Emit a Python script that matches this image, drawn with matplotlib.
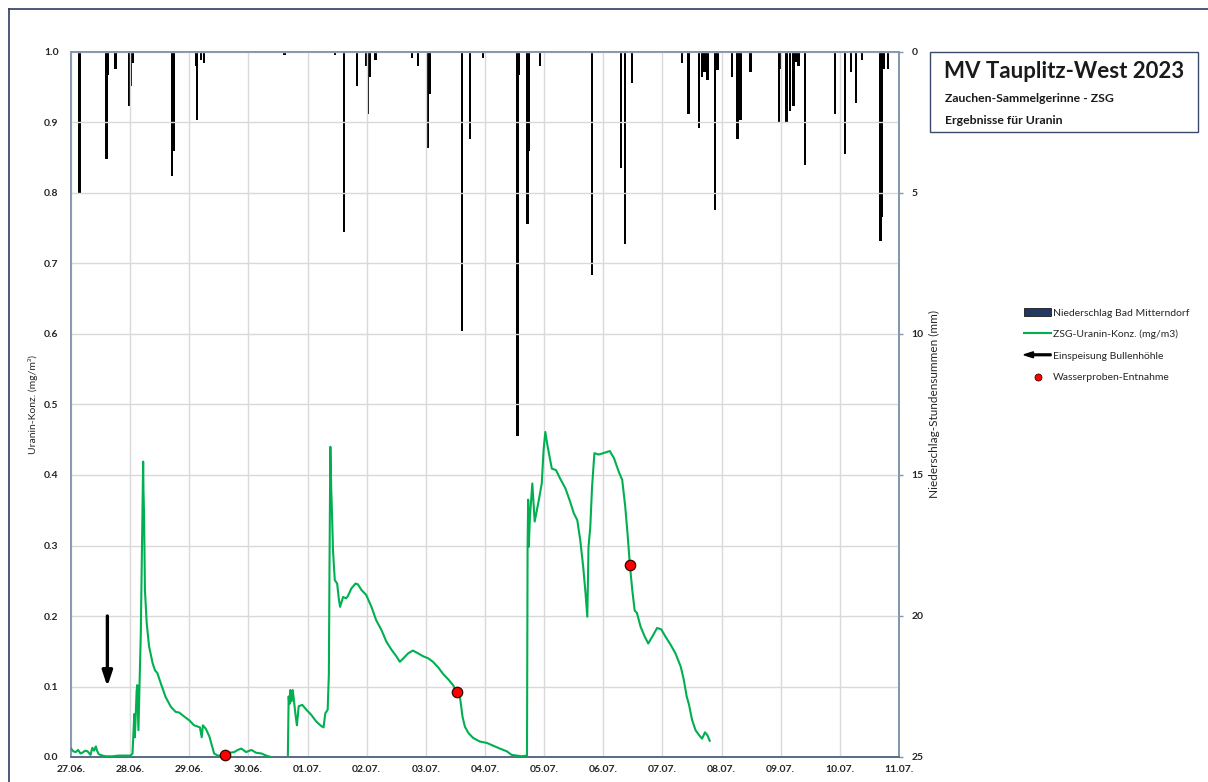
import matplotlib
matplotlib.use("Agg")
import matplotlib.pyplot as plt
import matplotlib.patches as mpatches
from matplotlib.lines import Line2D
from matplotlib.legend_handler import HandlerBase
import numpy as np

plt.rcParams['font.family'] = ['Lato', 'DejaVu Sans']

# ---------------- data ----------------
date_labels = ["27.06.", "28.06.", "29.06.", "30.06.", "01.07.", "02.07.", "03.07.",
               "04.07.", "05.07.", "06.07.", "07.07.", "08.07.", "09.07.", "10.07.", "11.07."]

# time in days since 27.06. 00:00
uranin_t = [0.00, 0.04, 0.08, 0.12, 0.16, 0.19, 0.24, 0.28, 0.31, 0.33, 0.35, 0.36, 0.39, 0.42,
            0.44, 0.47, 0.53, 0.59, 0.70, 0.81, 0.93, 1.01, 1.04, 1.05, 1.07, 1.08, 1.10, 1.11,
            1.12, 1.14, 1.16, 1.18, 1.20, 1.22, 1.225, 1.235, 1.25, 1.28, 1.32, 1.38, 1.42, 1.46,
            1.52, 1.60, 1.69, 1.77, 1.83, 1.89, 2.00, 2.08, 2.18, 2.21, 2.23, 2.28, 2.34, 2.38,
            2.42, 2.48, 2.60, 2.68, 2.76, 2.82, 2.88, 2.96, 3.05, 3.13, 3.22, 3.30, 3.38, 3.50,
            3.667, 3.68, 3.69, 3.70, 3.71, 3.73, 3.75, 3.80, 3.82, 3.85, 3.91, 3.98, 4.06, 4.15,
            4.23, 4.27, 4.30, 4.34, 4.36, 4.37, 4.385, 4.40, 4.41, 4.43, 4.46, 4.50, 4.53, 4.55,
            4.60, 4.65, 4.68, 4.74, 4.81, 4.85, 4.91, 4.99, 5.08, 5.16, 5.25, 5.33, 5.42, 5.50,
            5.56, 5.62, 5.70, 5.78, 5.87, 5.95, 6.04, 6.12, 6.21, 6.29, 6.38, 6.46, 6.52, 6.58,
            6.62, 6.66, 6.72, 6.80, 6.91, 7.03, 7.14, 7.25, 7.37, 7.45, 7.54, 7.62, 7.71, 7.72,
            7.73, 7.74, 7.76, 7.80, 7.84, 7.90, 7.96, 7.99, 8.02, 8.06, 8.13, 8.20, 8.27, 8.36,
            8.44, 8.50, 8.56, 8.61, 8.66, 8.70, 8.73, 8.75, 8.78, 8.81, 8.85, 8.92, 9.00, 9.11,
            9.18, 9.26, 9.32, 9.37, 9.41, 9.45, 9.49, 9.53, 9.57, 9.63, 9.70, 9.76, 9.83, 9.91,
            9.98, 10.05, 10.14, 10.22, 10.31, 10.36, 10.41, 10.45, 10.50, 10.56, 10.62, 10.67,
            10.72, 10.76, 10.80]
uranin_c = [0.012, 0.008, 0.007, 0.010, 0.005, 0.006, 0.009, 0.008, 0.005, 0.003, 0.010, 0.013,
            0.009, 0.015, 0.009, 0.004, 0.002, 0.001, 0.001, 0.002, 0.002, 0.002, 0.005, 0.023,
            0.061, 0.028, 0.070, 0.094, 0.102, 0.038, 0.104, 0.175, 0.294, 0.419, 0.380, 0.345,
            0.237, 0.190, 0.157, 0.133, 0.123, 0.119, 0.104, 0.085, 0.071, 0.064, 0.063, 0.059,
            0.052, 0.045, 0.042, 0.028, 0.045, 0.040, 0.029, 0.017, 0.005, 0.002, 0.002, 0.006,
            0.007, 0.010, 0.012, 0.007, 0.010, 0.006, 0.005, 0.002, 0.000, np.nan,
            0.003, 0.086, 0.075, 0.076, 0.095, 0.079, 0.095, 0.057, 0.045, 0.072, 0.074, 0.067,
            0.060, 0.050, 0.044, 0.042, 0.062, 0.067, 0.118, 0.260, 0.440, 0.380, 0.355, 0.293,
            0.251, 0.246, 0.223, 0.213, 0.227, 0.225, 0.228, 0.239, 0.246, 0.245, 0.237, 0.230,
            0.213, 0.194, 0.180, 0.164, 0.152, 0.143, 0.135, 0.140, 0.147, 0.151, 0.147, 0.143,
            0.140, 0.135, 0.127, 0.118, 0.110, 0.102, 0.092, 0.083, 0.057, 0.043, 0.034, 0.027,
            0.022, 0.020, 0.016, 0.012, 0.008, 0.003, 0.002, 0.001, 0.002, 0.298, 0.365, 0.298,
            0.341, 0.388, 0.334, 0.360, 0.388, 0.435, 0.461, 0.440, 0.409, 0.407, 0.395, 0.381,
            0.362, 0.346, 0.336, 0.308, 0.270, 0.232, 0.199, 0.298, 0.326, 0.383, 0.431, 0.429,
            0.431, 0.434, 0.424, 0.405, 0.393, 0.356, 0.317, 0.272, 0.237, 0.208, 0.204, 0.185,
            0.171, 0.161, 0.171, 0.183, 0.181, 0.171, 0.159, 0.147, 0.128, 0.110, 0.086, 0.074,
            0.053, 0.038, 0.031, 0.026, 0.035, 0.031, 0.023]

# hourly precipitation sums Bad Mitterndorf (mm)
rain_t = [0.14, 0.15, 0.60, 0.62, 0.75, 0.98, 1.01, 1.04, 1.71, 1.73, 2.11, 2.13, 2.20, 2.25,
          3.61, 4.46, 4.62, 4.84, 4.99, 5.02, 5.05, 5.15, 5.77, 5.87, 6.04, 6.06, 6.61, 6.75,
          6.97, 7.55, 7.57, 7.72, 7.74, 7.93, 8.81, 9.30, 9.37, 9.49, 10.33, 10.44, 10.62,
          10.67, 10.71, 10.76, 10.89, 10.93, 11.18, 11.27, 11.32, 11.49, 11.97, 12.00, 12.10,
          12.16, 12.22, 12.26, 12.30, 12.41, 12.92, 13.09, 13.19, 13.27, 13.37, 13.69, 13.71,
          13.75, 13.81]
rain_mm = [5.0, 1.0, 3.8, 0.8, 0.6, 1.9, 1.2, 0.4, 4.4, 3.5, 0.5, 2.4, 0.3, 0.4,
           0.1, 0.1, 6.4, 1.2, 0.5, 2.2, 0.9, 0.3, 0.2, 0.5, 3.4, 1.5, 9.9, 3.1,
           0.2, 13.6, 0.8, 6.1, 3.5, 0.5, 7.9, 4.1, 6.8, 1.1, 0.4, 2.2, 2.7,
           0.9, 0.7, 1.0, 5.6, 0.65, 0.9, 3.1, 2.4, 0.7, 2.5, 0.6, 2.5,
           2.1, 1.9, 0.35, 0.5, 4.0, 2.2, 3.6, 0.7, 1.8, 0.3, 6.7, 5.85,
           0.6, 0.6]

sample_t = [2.61, 6.52, 9.45]
sample_c = [0.003, 0.092, 0.272]

injection_t = 0.615
injection_from, injection_to = 0.20, 0.10

# ---------------- figure ----------------
W, H = 1208, 782
fig = plt.figure(figsize=(W / 100, H / 100), dpi=100)
fig.patch.set_facecolor('white')

L, R, B, T = 71, 899, 757, 52
ax = fig.add_axes([L / W, 1 - B / H, (R - L) / W, (B - T) / H])
ax2 = ax.twinx()

spine_col = '#8496b0'
grid_col = '#d9d9d9'
tick_col = '#262626'

ax.set_xlim(0, 14)
ax.set_ylim(0, 1.0)
ax.set_xticks(np.arange(len(date_labels)))
ax.set_xticklabels(date_labels)
ax.set_yticks(np.arange(0, 1.01, 0.1))
ax.set_yticklabels([f"{v:.1f}" for v in np.arange(0, 1.01, 0.1)])
ax.grid(True, color=grid_col, lw=1.0)
ax.set_axisbelow(True)
ax.tick_params(axis='x', length=0, pad=6, labelsize=7.5, colors=tick_col)
ax.tick_params(axis='y', length=0, pad=9, labelsize=7.5, colors=tick_col)
for lab in ax.get_xticklabels() + ax.get_yticklabels():
    lab.set_fontweight('bold')
ax.set_ylabel("Uranin-Konz. (mg/m³)", fontsize=7.5, color=tick_col, labelpad=4)

ax2.set_ylim(25, 0)
ax2.set_yticks([0, 5, 10, 15, 20, 25])
ax2.tick_params(axis='y', length=3, width=1, color=spine_col, pad=6, labelsize=7.5, colors=tick_col)
ax2.tick_params(axis='y', color=spine_col)
for lab in ax2.get_yticklabels():
    lab.set_fontweight('bold')
ax2.set_ylabel("Niederschlag-Stundensummen (mm)", fontsize=8.5, color=tick_col, labelpad=4)

for a in (ax, ax2):
    for s in ('left', 'right', 'top'):
        a.spines[s].set_color(spine_col)
        a.spines[s].set_linewidth(1.3)
    a.spines['bottom'].set_color('#5a6b88')
    a.spines['bottom'].set_linewidth(1.3)

# precipitation bars hanging from top
ax2.bar(rain_t, rain_mm, width=1 / 24, color='black', align='center', zorder=2)

# uranin curve + samples + injection arrow on the left axis (draw above bars)
ax.set_zorder(ax2.get_zorder() + 1)
ax.patch.set_visible(False)
ax.plot(uranin_t, uranin_c, color='#00b050', lw=1.5, zorder=3)
ax.plot(sample_t, sample_c, 'o', ms=7.5, mfc='#ff0000', mec='#3a0000', mew=0.9,
        zorder=5, clip_on=False)
ax.annotate('', xy=(injection_t, injection_to), xytext=(injection_t, injection_from),
            arrowprops=dict(arrowstyle='-|>,head_width=0.3,head_length=0.9',
                            lw=2.4, color='black', shrinkA=0, shrinkB=0), zorder=4)


# ---------------- legend ----------------
class HandlerArrow(HandlerBase):
    def create_artists(self, legend, orig_handle, xdescent, ydescent, width, height,
                       fontsize, trans):
        a = mpatches.FancyArrow(width, height / 2, -width, 0, width=height * 0.22,
                                head_width=height * 0.75, head_length=width * 0.35,
                                length_includes_head=True, color='black', transform=trans)
        return [a]


class ArrowKey:
    pass


h_rain = mpatches.Patch(facecolor='#203864', edgecolor='#1a1a1a', lw=0.6)
h_line = Line2D([], [], color='#00b050', lw=1.5)
h_arrow = ArrowKey()
h_dot = Line2D([], [], ls='none', marker='o', ms=5, mfc='#ff0000', mec='#3a0000', mew=0.6)
leg = fig.legend([h_rain, h_line, h_arrow, h_dot],
                 ["Niederschlag Bad Mitterndorf", "ZSG-Uranin-Konz. (mg/m3)",
                  "Einspeisung Bullenhöhle", "Wasserproben-Entnahme"],
                 handler_map={ArrowKey: HandlerArrow()},
                 loc='upper left', bbox_to_anchor=(1024 / W, 1 - 308 / H),
                 frameon=False, fontsize=7.5, handlelength=2.6, handleheight=0.8,
                 handletextpad=0.15, labelspacing=1.15, borderpad=0, borderaxespad=0)
for t in leg.get_texts():
    t.set_color(tick_col)

# ---------------- title box ----------------
bx0, bx1, by0, by1 = 930, 1198, 52, 132
fig.patches.append(mpatches.Rectangle((bx0 / W, 1 - by1 / H), (bx1 - bx0) / W, (by1 - by0) / H,
                                      transform=fig.transFigure, fill=False,
                                      edgecolor='#3b4a6b', lw=1.0))
fig.text(944 / W, 1 - 72 / H, "MV Tauplitz-West 2023", fontsize=16, fontweight='bold',
         va='center', ha='left', color='#1a1a1a')
fig.text(945 / W, 1 - 99 / H, "Zauchen-Sammelgerinne - ZSG", fontsize=8.8, fontweight='bold',
         va='center', ha='left', color='#1a1a1a')
fig.text(945 / W, 1 - 120 / H, "Ergebnisse für Uranin", fontsize=8.8, fontweight='bold',
         va='center', ha='left', color='#1a1a1a')

# outer chart frame (partly outside the image)
fig.lines.append(Line2D([8.5 / W, 8.5 / W], [0, 1 - 8.5 / H], transform=fig.transFigure,
                        color='#2f3d5e', lw=1.2))
fig.lines.append(Line2D([8.5 / W, 1], [1 - 8.5 / H, 1 - 8.5 / H], transform=fig.transFigure,
                        color='#2f3d5e', lw=1.2))

fig.savefig("out.png", dpi=100)
